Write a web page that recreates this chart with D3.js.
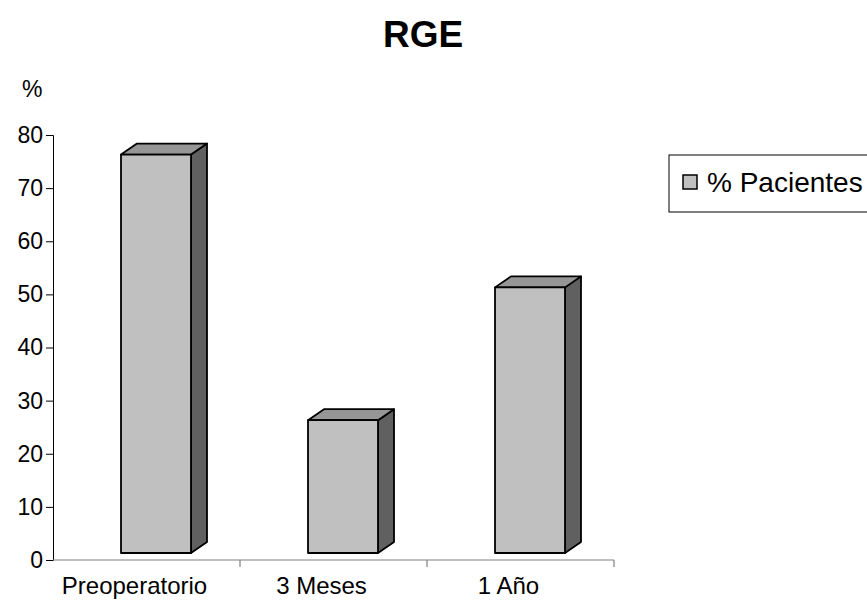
<!DOCTYPE html>
<html>
<head>
<meta charset="utf-8">
<script src="https://cdn.jsdelivr.net/npm/d3@7/dist/d3.min.js"></script>
<style>
  html, body { margin: 0; padding: 0; background: #fff; overflow: hidden; }
  svg { display: block; font-family: Arial, "Liberation Sans", sans-serif; }
</style>
</head>
<body>
<svg id="chart" width="867" height="604"></svg>
<script>
// RGE: percentage of patients per follow-up stage
const categories = ["Preoperatorio", "3 Meses", "1 Año"];
const pacientes = [75, 25, 50];
const yTicks = [0, 10, 20, 30, 40, 50, 60, 70, 80];
const seriesName = "% Pacientes";

const svg = d3.select("#chart");

const x = d3.scaleBand().domain(categories).range([53, 614]).padding(0);
const y = d3.scaleLinear().domain([0, 80]).range([560, 135]);

// 3-D column geometry
const barW = 70, dx = 16, dy = 11, lift = 7, shift = 9.5;
const colFront = "#c0c0c0", colTop = "#969696", colSide = "#606060";

// Title and unit label
svg.append("text").attr("x", 423).attr("y", 47)
  .attr("text-anchor", "middle").attr("font-size", 37).attr("font-weight", "bold")
  .text("RGE");
svg.append("text").attr("x", 22).attr("y", 97).attr("font-size", 23).text("%");

// Y axis
const yAxis = svg.append("g").attr("transform", "translate(53,0)")
  .call(d3.axisLeft(y).tickValues(yTicks).tickSize(7).tickPadding(3));
yAxis.select(".domain").attr("stroke", "#000").attr("stroke-width", 1);
yAxis.selectAll(".tick line").attr("stroke", "#000");
yAxis.selectAll(".tick text").attr("font-size", 23).attr("fill", "#000")
  .attr("font-family", "Arial, 'Liberation Sans', sans-serif");

// X axis: baseline with ticks on category boundaries
const xAxis = svg.append("g");
xAxis.append("line").attr("x1", x.range()[0]).attr("x2", x.range()[1])
  .attr("y1", y(0)).attr("y2", y(0)).attr("stroke", "#808080").attr("stroke-width", 1.2);
const bounds = categories.map(c => x(c) + x.bandwidth());
xAxis.selectAll(".xt").data(bounds).join("line")
  .attr("x1", d => d).attr("x2", d => d)
  .attr("y1", y(0)).attr("y2", y(0) + 7).attr("stroke", "#808080").attr("stroke-width", 1.2);
xAxis.selectAll(".xl").data(categories).join("text")
  .attr("x", d => x(d) + x.bandwidth() / 2 - 12).attr("y", 594)
  .attr("text-anchor", "middle").attr("font-size", 24).text(d => d);

// Columns
const bars = svg.append("g").selectAll("g").data(categories.map((c, i) => ({ c, v: pacientes[i] })))
  .join("g");

bars.each(function(d) {
  const g = d3.select(this);
  const x0 = x(d.c) + (x.bandwidth() - barW) / 2 + shift;
  const top = y(d.v) - lift, bot = y(0) - lift;
  const pts = a => a.map(p => p.join(",")).join(" ");
  g.append("polygon")
    .attr("points", pts([[x0 + barW, top], [x0 + barW + dx, top - dy], [x0 + barW + dx, bot - dy], [x0 + barW, bot]]))
    .attr("fill", colSide);
  g.append("polygon")
    .attr("points", pts([[x0, top], [x0 + dx, top - dy], [x0 + barW + dx, top - dy], [x0 + barW, top]]))
    .attr("fill", colTop);
  g.append("rect").attr("x", x0).attr("y", top).attr("width", barW).attr("height", bot - top)
    .attr("fill", colFront);
  g.selectAll("polygon, rect").attr("stroke", "#000").attr("stroke-width", 1.8)
    .attr("stroke-linejoin", "round");
});

// Legend
const lg = svg.append("g").attr("transform", "translate(669,155)");
lg.append("rect").attr("width", 260).attr("height", 57)
  .attr("fill", "#fff").attr("stroke", "#000").attr("stroke-width", 1);
lg.append("rect").attr("x", 14).attr("y", 20).attr("width", 14).attr("height", 14)
  .attr("fill", colFront).attr("stroke", "#000").attr("stroke-width", 1.5);
lg.append("text").attr("x", 38).attr("y", 37).attr("font-size", 28).text(seriesName);
</script>
</body>
</html>
